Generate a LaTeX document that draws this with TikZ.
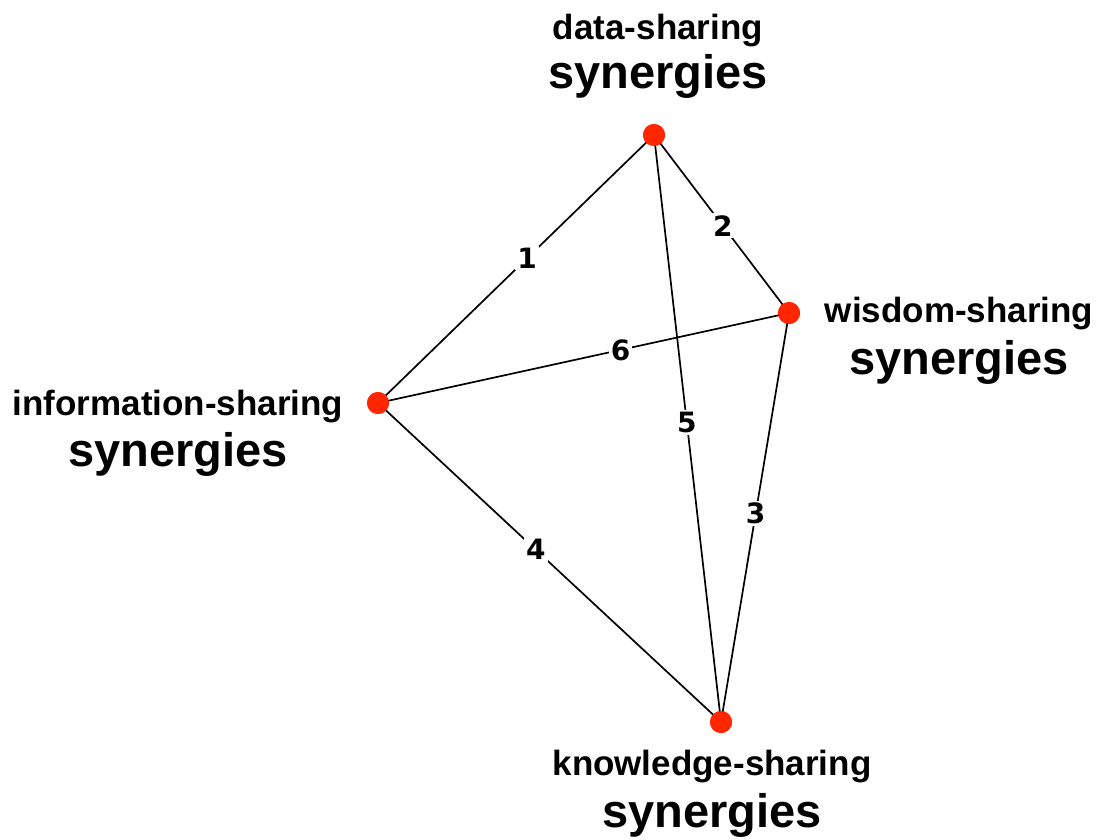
\documentclass[tikz,border=0pt]{standalone}
\usepackage{fontspec}
\setmainfont{Liberation Sans}
\newfontfamily\numfont{DejaVu Sans}
\usepackage{tikz}
\usetikzlibrary{
  arrows.meta,   % 箭头样式
  positioning    % 节点相对定位
}
\definecolor{dotred}{RGB}{255,38,0}

\begin{document}
\begin{tikzpicture}[x=1pt, y=-1pt,
    dot/.style={circle, fill=dotred, minimum size=22pt, inner sep=0pt},
    edge/.style={line width=1.7pt, black},
    num/.style={fill=white, inner sep=2pt, font=\numfont\bfseries\fontsize{28}{28}\selectfont},
    small/.style={anchor=base, font=\bfseries\fontsize{35}{35}\selectfont},
    big/.style={anchor=base, font=\bfseries\fontsize{47}{47}\selectfont}]
  % 画布大小
  \useasboundingbox (0,0) rectangle (1098,840);

  % 1. 四个顶点
  \node[dot] (D) at (654,135) {};
  \node[dot] (W) at (789,313) {};
  \node[dot] (I) at (378,403) {};
  \node[dot] (K) at (721,722) {};

  % 2. 六条连线及编号
  \draw[edge] (I.center) -- node[num, pos=0.54] {1} (D.center);
  \draw[edge] (D.center) -- node[num, pos=0.51] {2} (W.center);
  \draw[edge] (W.center) -- node[num, pos=0.49] {3} (K.center);
  \draw[edge] (I.center) -- node[num, pos=0.46] {4} (K.center);
  \draw[edge] (D.center) -- node[num, pos=0.49] {5} (K.center);
  \draw[edge] (I.center) -- node[num, pos=0.59] {6} (W.center);

  % 重画顶点，盖住线端
  \foreach \v in {D,W,I,K}
    \fill[dotred] (\v.center) circle (11);

  % 3. 顶点文字
  \node[small] (Dt) at (658,40) {data-sharing};
  \node[big]   (Db) at (658,89) {synergies};
  \node[small] (Wt) at (959,322) {wisdom-sharing};
  \node[big]   (Wb) at (959,374) {synergies};
  \node[small] (It) at (178,415) {information-sharing};
  \node[big]   (Ib) at (178,466) {synergies};
  \node[small] (Kt) at (712,775) {knowledge-sharing};
  \node[big]   (Kb) at (712,827) {synergies};
\end{tikzpicture}
\end{document}
